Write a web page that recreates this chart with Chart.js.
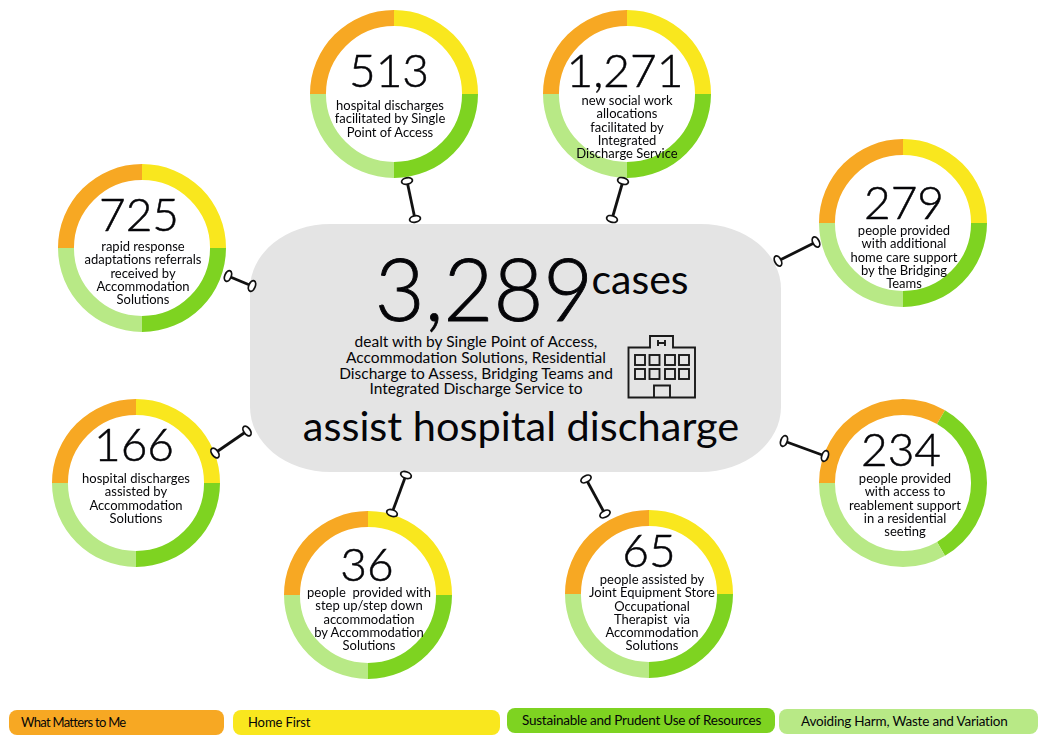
<!DOCTYPE html>
<html>
<head>
<meta charset="utf-8">
<title>Hospital discharge</title>
<script src="https://cdn.jsdelivr.net/npm/chart.js@4"></script>
<style>
  html, body { margin: 0; padding: 0; background: #fff; }
  #page { position: relative; width: 1041px; height: 743px; overflow: hidden; font-family: Lato, sans-serif; color: #050508; }
  #page canvas { position: absolute; }
  .abs { position: absolute; white-space: nowrap; text-align: center; transform: translate(-50%, -50%); }
  .num { font-size: 46px; font-weight: 300; line-height: 46px; -webkit-text-stroke: 0.5px #050508; }
  .label { font-size: 13px; line-height: 13.3px; transform: translateX(-50%); }
  #panel { position: absolute; left: 250px; top: 224px; width: 531px; height: 248px; background: #e4e4e4; border-radius: 80px / 65px; }
  .pill { position: absolute; height: 25px; line-height: 24px; border-radius: 8px; white-space: nowrap; box-sizing: border-box; }
  svg { position: absolute; left: 0; top: 0; }
</style>
</head>
<body>
<div id="page">
  <div id="panel"></div>
  <div class="abs" style="left:484px;top:288px;font-size:86px;font-weight:300;line-height:86px;-webkit-text-stroke:0.9px #050508;">3,289</div>
  <div class="abs" style="left:640px;top:278px;font-size:41px;line-height:41px;">cases</div>
  <div class="abs" style="left:476px;top:366px;font-size:15.5px;line-height:15.8px;">dealt with by Single Point of Access,<br>Accommodation Solutions, Residential<br>Discharge to Assess, Bridging Teams and<br>Integrated Discharge Service to</div>
  <div class="abs" style="left:521px;top:425px;font-size:41.5px;line-height:41px;">assist hospital discharge</div>
  <svg width="1041" height="743" id="decor" fill="none" stroke="#111"></svg>
</div>
<script>
// legend categories, in ring order starting at 9 o'clock
const categories = ['What Matters to Me', 'Home First', 'Sustainable and Prudent Use of Resources', 'Avoiding Harm, Waste and Variation'];
const colors = ['#f7a823', '#f9e71e', '#7ed321', '#b8e986'];

const numbers = ['513', '1,271', '725', '279', '166', '234', '36', '65'];
const captions = [
  ['hospital discharges', 'facilitated by Single', 'Point of Access'],
  ['new social work', 'allocations', 'facilitated by', 'Integrated', 'Discharge Service'],
  ['rapid response', 'adaptations referrals', 'received by', 'Accommodation', 'Solutions'],
  ['people provided', 'with additional', 'home care support', 'by the Bridging', 'Teams'],
  ['hospital discharges', 'assisted by', 'Accommodation', 'Solutions'],
  ['people provided', 'with access to', 'reablement support', 'in a residential', 'seeting'],
  ['people  provided with', 'step up/step down', 'accommodation', 'by Accommodation', 'Solutions'],
  ['people assisted by', 'Joint Equipment Store', 'Occupational', 'Therapist  via', 'Accommodation', 'Solutions']
];
// share of each ring per category (234 has no Home First segment)
const ringValues = [
  [1, 1, 1, 1], [1, 1, 1, 1], [1, 1, 1, 1], [1, 1, 1, 1],
  [1, 1, 1, 1], [1, 0, 1, 1], [1, 1, 1, 1], [1, 1, 1, 1]
];

// layout: ring cx, cy, number cx, cy, caption cx, first line top
const layout = [
  [393.5, 94, 389, 70, 390, 99],
  [627, 94, 625, 70, 627, 94],
  [142, 248, 139, 214, 143, 240],
  [903, 223, 904, 202, 904, 224],
  [136, 483, 134, 444, 136, 472],
  [903, 483, 901, 449, 905, 472],
  [368, 595, 367, 564, 369, 586],
  [649, 594, 649, 550, 652, 573]
];
const connectors = [
  [407, 181, 415, 219], [623, 181, 612, 219], [228, 276, 252, 286], [816, 242, 778, 261],
  [247, 431, 215, 453], [784, 441, 825, 456], [406, 475, 392, 513], [586, 479, 605, 514]
];
// legend pills: x, y, width, text inset, font size, letter spacing
const pills = [
  [9, 710, 215, 12, 13, -0.7],
  [233, 710, 267, 15, 13, -0.1],
  [507, 708, 268, 15, 13.5, -0.24],
  [779, 709, 259, 22, 13.5, -0.19]
];

const page = document.getElementById('page');
const RING = 168;

numbers.forEach((num, i) => {
  const [cx, cy, nx, ny, lx, ly] = layout[i];
  const canvas = document.createElement('canvas');
  canvas.width = RING;
  canvas.height = RING;
  canvas.style.left = (cx - RING / 2) + 'px';
  canvas.style.top = (cy - RING / 2) + 'px';
  page.appendChild(canvas);

  new Chart(canvas.getContext('2d'), {
    type: 'doughnut',
    data: { labels: categories, datasets: [{ data: ringValues[i], backgroundColor: colors, borderWidth: 0 }] },
    options: {
      responsive: false,
      animation: false,
      rotation: -90,
      cutout: '81%',
      layout: { padding: 0 },
      plugins: { legend: { display: false }, tooltip: { enabled: false } }
    }
  });

  const n = document.createElement('div');
  n.className = 'abs num';
  n.style.left = nx + 'px';
  n.style.top = ny + 'px';
  n.textContent = num;
  page.appendChild(n);

  const c = document.createElement('div');
  c.className = 'abs label';
  c.style.left = lx + 'px';
  c.style.top = ly + 'px';
  c.innerHTML = captions[i].join('<br>').replace(/  /g, '&nbsp; ');
  page.appendChild(c);
});

categories.forEach((name, i) => {
  const [x, y, w, pad, size, spacing] = pills[i];
  const p = document.createElement('div');
  p.className = 'pill';
  p.style.cssText = `left:${x}px;top:${y}px;width:${w}px;padding-left:${pad}px;background:${colors[i]};font-size:${size}px;letter-spacing:${spacing}px;`;
  p.textContent = name;
  page.appendChild(p);
});

// connectors and hospital icon, on top of the rings
let decor = '';
connectors.forEach(([x1, y1, x2, y2]) => {
  const angle = Math.atan2(y2 - y1, x2 - x1) * 180 / Math.PI + 90;
  decor += `<line x1="${x1}" y1="${y1}" x2="${x2}" y2="${y2}" stroke-width="2.8"/>`;
  [[x1, y1], [x2, y2]].forEach(([x, y]) => {
    decor += `<ellipse cx="${x}" cy="${y}" rx="5.5" ry="3.2" fill="#fff" stroke-width="1.8" transform="rotate(${angle} ${x} ${y})"/>`;
  });
});
decor += '<g stroke-width="1.9" stroke="#1a1a1a">'
  + '<path d="M628.5 397.5V347.5H650V336H673V347.5H695V397.5Z"/>'
  + '<path d="M654 398V385.5H670V398"/>'
  + '<path d="M658 340V346M665 340V346M658 343H665"/>';
[640, 654.5, 670, 684].forEach(x => {
  [360, 374].forEach(y => { decor += `<rect x="${x - 5}" y="${y - 5}" width="10" height="10"/>`; });
});
decor += '</g>';
const svg = document.getElementById('decor');
svg.innerHTML = decor;
page.appendChild(svg);
</script>
</body>
</html>
